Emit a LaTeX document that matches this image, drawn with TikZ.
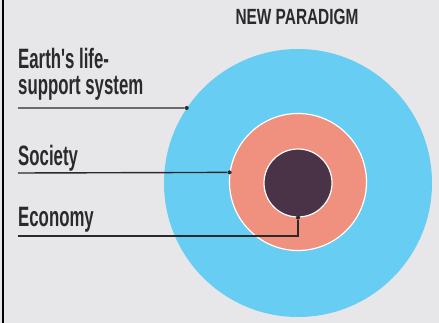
\documentclass[tikz,border=0pt]{standalone}
\usepackage{fontspec}
\usepackage{xcolor}
\usepackage{tikz}
\usetikzlibrary{positioning}
\newfontfamily\labelfont[FakeStretch=0.6]{Liberation Sans}
\newfontfamily\titlefont[FakeStretch=0.7]{Liberation Sans}
\definecolor{bggray}{HTML}{E7E7E9}
\definecolor{skyblue}{HTML}{68CDF3}
\definecolor{salmon}{HTML}{F0907F}
\definecolor{plum}{HTML}{4A3346}
\definecolor{inkgray}{HTML}{2A2A2C}
\tikzset{
  ring/.style = {circle, inner sep = 0pt},
  dot/.style = {circle, fill = inkgray, inner sep = 0pt, minimum size = 4pt},
  lead/.style = {-, draw = inkgray, line width = 1.4pt},
  lbl/.style = {anchor = base west, inner sep = 0pt, text = inkgray, align = left,
                font = \labelfont\bfseries\fontsize{28}{26}\selectfont}
}

\begin{document}
\begin{tikzpicture}[x=1pt, y=-1pt]
    \fill[bggray] (0,0) rectangle (439,323);
    \useasboundingbox (0,0) rectangle (439,323);
    \draw[black, line width = 1.5pt] (3,0) -- (3,323);
    % circles
    \node(earth) at (298,183) [ring, fill = skyblue, minimum size = 268pt] {};
    \node(society) at (298,182) [ring, fill = salmon, draw = white, line width = 1.2pt, minimum size = 137pt] {};
    \node(economy) at (298,183) [ring, fill = plum, draw = white, line width = 1.2pt, minimum size = 68pt] {};
    % title and labels
    \node(title) at (297,25) [anchor = base, inner sep = 0pt, text = inkgray,
      font = \titlefont\bfseries\fontsize{22}{22}\selectfont] {NEW PARADIGM};
    \node(earthT) at (18,95) [lbl] {Earth's life-\\support system};
    \node(societyT) at (18,166) [lbl] {Society};
    \node(economyT) at (18,226) [lbl] {Economy};
    % leaders
    \coordinate(earthL) at (18,108);
    \coordinate(societyL) at (18,173);
    \coordinate(economyL) at (18,236);
    \node(earthD) at (earth.146) [dot] {}
      edge [lead] (earthL)
      ;
    \node(societyD) at (society.172) [dot] {}
      edge [lead] (societyL)
      ;
    \node(economyD) at (economy.south) [dot] {};
    \draw[lead] (economyL) -| (economyD);
\end{tikzpicture}
\end{document}
